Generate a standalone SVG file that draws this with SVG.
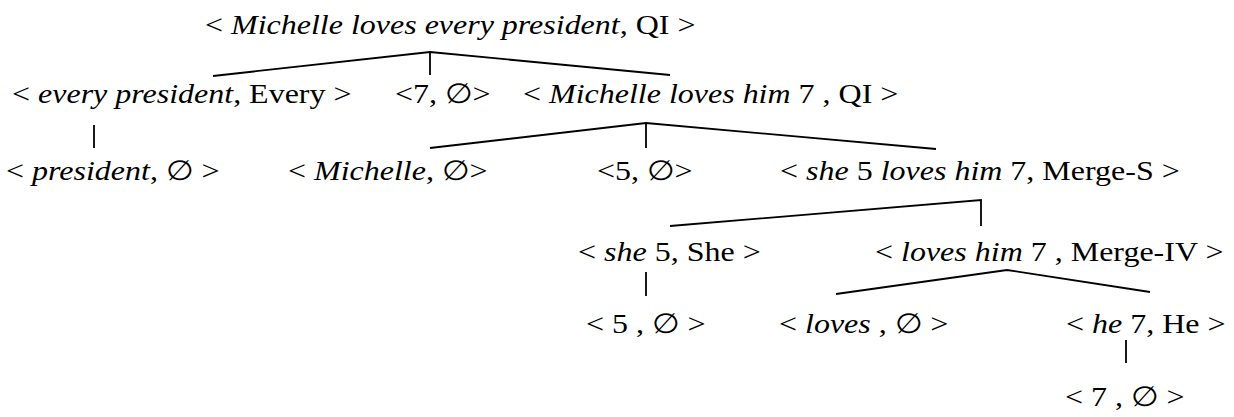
<svg xmlns="http://www.w3.org/2000/svg" width="1234" height="417" viewBox="0 0 1234 417">
<style>
text{font-family:"Liberation Serif","Times New Roman","DejaVu Serif",serif;font-size:32px;fill:#000}
.i{font-style:italic}
.c{stroke:#000;stroke-width:1.8;fill:none}
</style>
<rect width="1234" height="417" fill="#fff"/>
<g id="connectors" class="c">
<polyline points="213,76 430,52 670,75"/>
<line x1="430" y1="52" x2="430" y2="75"/>
<line x1="94" y1="125" x2="94" y2="148"/>
<polyline points="430,148 646,123 936,149"/>
<line x1="646" y1="123" x2="646" y2="148"/>
<polyline points="670,226 981,200 981,226"/>
<line x1="646" y1="272" x2="646" y2="296"/>
<polyline points="836,294 1007,270 1150,292"/>
<line x1="1126" y1="340" x2="1126" y2="363"/>
</g>
<g id="n1"><text transform="translate(205,34) scale(1,0.88)">&lt; <tspan class="i">Michelle loves every president</tspan>, QI &gt;</text></g>
<g id="n2"><text transform="translate(12,103) scale(1,0.88)">&lt; <tspan class="i">every president</tspan>, Every &gt;</text></g>
<g id="n3"><text transform="translate(395,103) scale(1,0.88)">&lt;7, ∅&gt;</text></g>
<g id="n4"><text transform="translate(523,103) scale(1,0.88)">&lt; <tspan class="i">Michelle loves him</tspan> 7 , QI &gt;</text></g>
<g id="n5"><text transform="translate(6,180) scale(1,0.88)">&lt; <tspan class="i">president</tspan>, ∅ &gt;</text></g>
<g id="n6"><text transform="translate(288,180) scale(1,0.88)">&lt; <tspan class="i">Michelle</tspan>, ∅&gt;</text></g>
<g id="n7"><text transform="translate(597,180) scale(1,0.88)">&lt;5, ∅&gt;</text></g>
<g id="n8"><text transform="translate(780,180) scale(1,0.88)">&lt; <tspan class="i">she</tspan> 5 <tspan class="i">loves him</tspan> 7, Merge-S &gt;</text></g>
<g id="n9"><text transform="translate(578,261) scale(1,0.88)">&lt; <tspan class="i">she</tspan> 5, She &gt;</text></g>
<g id="n10"><text transform="translate(875,261) scale(1,0.88)">&lt; <tspan class="i">loves him</tspan> 7 , Merge-IV &gt;</text></g>
<g id="n11"><text transform="translate(586,333) scale(1,0.88)">&lt; 5 , ∅ &gt;</text></g>
<g id="n12"><text transform="translate(779,333) scale(1,0.88)">&lt; <tspan class="i">loves</tspan> , ∅ &gt;</text></g>
<g id="n13"><text transform="translate(1066,333) scale(1,0.88)">&lt; <tspan class="i">he</tspan> 7, He &gt;</text></g>
<g id="n14"><text transform="translate(1065,406) scale(1,0.88)">&lt; 7 , ∅ &gt;</text></g>
</svg>
